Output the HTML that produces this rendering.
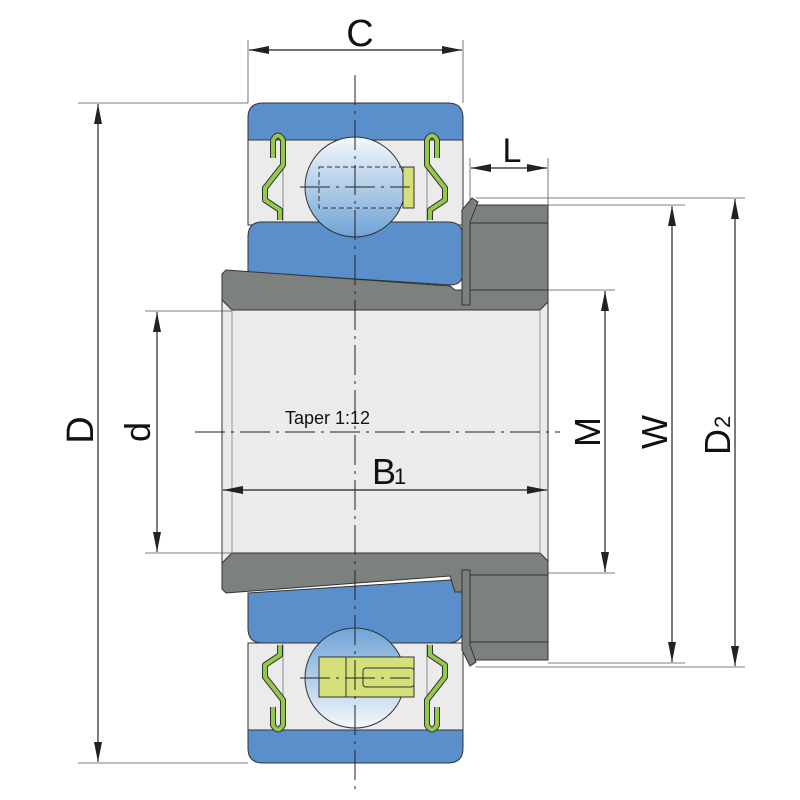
<!DOCTYPE html>
<html><head><meta charset="utf-8"><style>html,body{margin:0;padding:0;background:#fff}svg{display:block}</style></head>
<body>
<svg width="800" height="800" viewBox="0 0 800 800" xmlns="http://www.w3.org/2000/svg" font-family="Liberation Sans, sans-serif">
<defs>
<linearGradient id="bt" x1="0" y1="0" x2="0" y2="1"><stop offset="0" stop-color="#f4f8fc"/><stop offset="1" stop-color="#6fa3d6"/></linearGradient>
<linearGradient id="bb" x1="0" y1="1" x2="0" y2="0"><stop offset="0" stop-color="#f4f8fc"/><stop offset="1" stop-color="#6fa3d6"/></linearGradient>
<marker id="a" viewBox="0 0 20 8" refX="20" refY="4" markerWidth="20" markerHeight="8" orient="auto-start-reverse" markerUnits="userSpaceOnUse"><path d="M0,0 L20,4 L0,8 Z" fill="#222"/></marker>
<g id="seal">
<path d="M273,158 V140 Q278,131 283,140 V165 L265,188 V200 L280,210 V220" fill="none" stroke="#333" stroke-width="6" stroke-linejoin="round"/>
<path d="M273,158 V140 Q278,131 283,140 V165 L265,188 V200 L280,210 V220" fill="none" stroke="#93c94a" stroke-width="4" stroke-linejoin="round"/>
</g>
</defs>
<g stroke="#333" stroke-width="1">
<!-- top bearing -->
<rect x="248" y="140" width="215" height="85" fill="#ebebeb"/>
<path d="M248,140 V118 Q248,103 263,103 H448 Q463,103 463,118 V140 Z" fill="#5b8fcc"/>
<path d="M262,222 H448 Q463,222 463,237 V272 Q463,285 450,285 L248,272 V237 Q248,222 262,222 Z" fill="#5b8fcc"/>
<line x1="283" y1="158" x2="283" y2="222" stroke="#888"/>
<line x1="427" y1="158" x2="427" y2="222" stroke="#888"/>
<circle cx="355" cy="187" r="50" fill="url(#bt)"/>
<rect x="403" y="167" width="11" height="41" fill="#d5e07a"/>
<rect x="319" y="167" width="84" height="41" fill="none" stroke-dasharray="5,3"/>
<!-- bottom bearing -->
<rect x="248" y="643" width="215" height="87" fill="#ebebeb"/>
<path d="M248,730 V748 Q248,763 263,763 H448 Q463,763 463,748 V730 Z" fill="#5b8fcc"/>
<path d="M248,593 L450,580 Q463,582 463,597 V628 Q463,643 448,643 H262 Q248,643 248,628 Z" fill="#5b8fcc"/>
<line x1="283" y1="643" x2="283" y2="707" stroke="#888"/>
<line x1="427" y1="643" x2="427" y2="707" stroke="#888"/>
<circle cx="355" cy="678" r="50" fill="url(#bb)"/>
<rect x="319" y="657" width="95" height="40" fill="#d5e07a"/>
<line x1="346" y1="657" x2="346" y2="697"/>
<rect x="363" y="668" width="51" height="19" rx="3" fill="none"/>
<!-- sleeve -->
<path d="M226,270 L450,286 L455,290 H548 V592 H455 L450,576 L226,593 L222,589 V274 Z" fill="#7d817d"/>
<path d="M232,310 H540 L548,302 V561 L540,553 H232 L222,563 V300 Z" fill="#ebebeb"/>
<line x1="232" y1="310" x2="232" y2="553" stroke="#999"/>
<line x1="540" y1="310" x2="540" y2="553" stroke="#999"/>
<!-- nut -->
<rect x="470" y="205" width="78" height="85" fill="#7d817d"/>
<line x1="470" y1="223" x2="548" y2="223"/>
<rect x="470" y="575" width="78" height="85" fill="#7d817d"/>
<line x1="470" y1="642" x2="548" y2="642"/>
<path d="M462,305 V210 L472,198 L478,202 L470,222 V305 Z" fill="#7d817d"/>
<path d="M462,570 V650 L470,666 L476,662 L470,645 V570 Z" fill="#7d817d"/>
</g>
<use href="#seal"/>
<use href="#seal" transform="translate(710,0) scale(-1,1)"/>
<use href="#seal" transform="translate(0,865) scale(1,-1)"/>
<use href="#seal" transform="translate(710,865) scale(-1,-1)"/>
<!-- center lines -->
<g stroke="#222" stroke-width="1" stroke-dasharray="30,6,3,6" fill="none">
<line x1="355" y1="75" x2="355" y2="792"/>
<line x1="195" y1="432" x2="560" y2="432"/>
<line x1="300" y1="187" x2="410" y2="187"/>
<line x1="300" y1="678" x2="410" y2="678"/>
</g>
<!-- extension lines -->
<g stroke="#555" stroke-width="0.8">
<line x1="248" y1="40" x2="248" y2="103"/><line x1="463" y1="40" x2="463" y2="103"/>
<line x1="78" y1="103" x2="248" y2="103"/><line x1="78" y1="763" x2="248" y2="763"/>
<line x1="145" y1="311" x2="232" y2="311"/><line x1="145" y1="553" x2="232" y2="553"/>
<line x1="548" y1="290" x2="615" y2="290"/><line x1="548" y1="573" x2="615" y2="573"/>
<line x1="548" y1="205" x2="685" y2="205"/><line x1="548" y1="663" x2="685" y2="663"/>
<line x1="476" y1="198" x2="745" y2="198"/><line x1="476" y1="667" x2="745" y2="667"/>
<line x1="470" y1="158" x2="470" y2="205"/><line x1="548" y1="158" x2="548" y2="205"/>
</g>
<!-- dimension lines -->
<g stroke="#222" stroke-width="1.2" marker-start="url(#a)" marker-end="url(#a)">
<line x1="249" y1="50" x2="462" y2="50"/>
<line x1="98" y1="104" x2="98" y2="762"/>
<line x1="157" y1="312" x2="157" y2="552"/>
<line x1="605" y1="291" x2="605" y2="572"/>
<line x1="672" y1="206" x2="672" y2="662"/>
<line x1="735" y1="199" x2="735" y2="666"/>
<line x1="223" y1="490" x2="547" y2="490"/>
<line x1="471" y1="168" x2="547" y2="168"/>
</g>
<g fill="#111">
<text x="360" y="46" font-size="38" text-anchor="middle">C</text>
<text x="512" y="162" font-size="34" text-anchor="middle">L</text>
<text x="285" y="424" font-size="18">Taper 1:12</text>
<text x="372" y="484" font-size="36">B</text><text x="394" y="484" font-size="22">1</text>
<text transform="translate(93,430) rotate(-90)" font-size="38" text-anchor="middle">D</text>
<text transform="translate(150,432) rotate(-90)" font-size="36" text-anchor="middle">d</text>
<text transform="translate(600,432) rotate(-90)" font-size="36" text-anchor="middle">M</text>
<text transform="translate(667,432) rotate(-90)" font-size="36" text-anchor="middle">W</text>
<text transform="translate(730,455) rotate(-90)" font-size="36">D</text>
<text transform="translate(730,428) rotate(-90)" font-size="22">2</text>
</g>
</svg>
</body></html>
